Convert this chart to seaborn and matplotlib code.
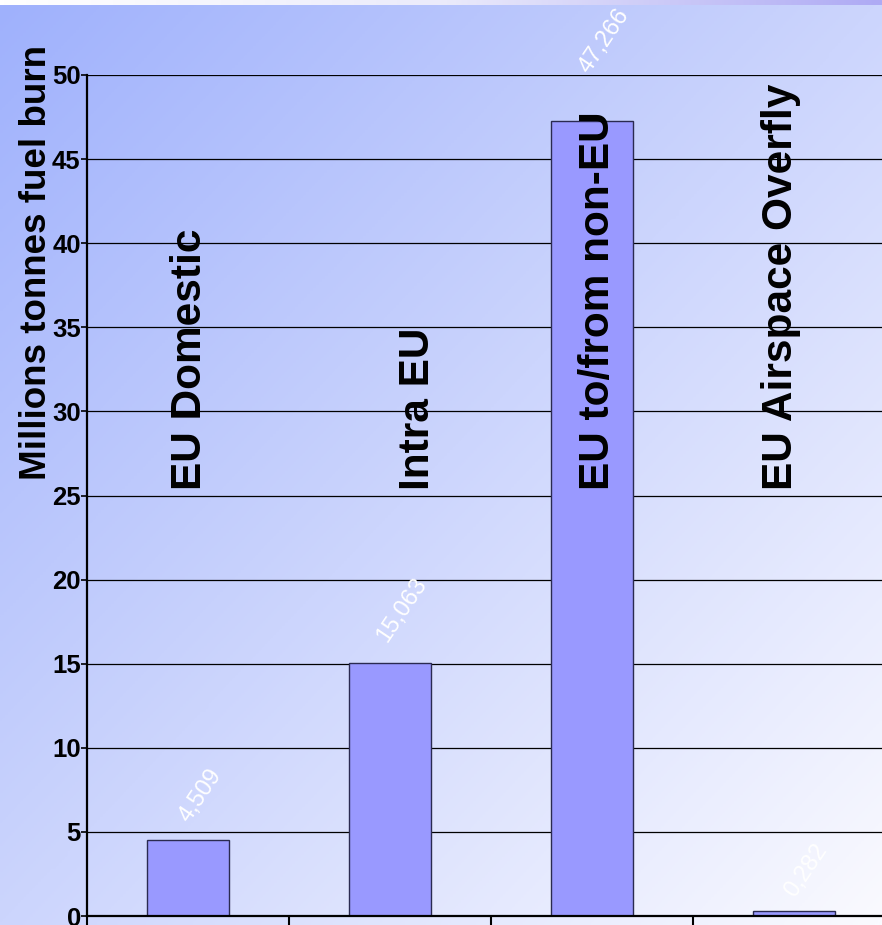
import numpy as np
import pandas as pd
import matplotlib
matplotlib.use("Agg")
import matplotlib.pyplot as plt
from matplotlib.colors import LinearSegmentedColormap
import seaborn as sns

# ---- data ----
categories = ["EU Domestic", "Intra EU", "EU to/from non-EU", "EU Airspace Overfly"]
values = [4.509, 15.063, 47.266, 0.282]
value_labels = ["4,509", "15,063", "47,266", "0,282"]
y_ticks = [0, 5, 10, 15, 20, 25, 30, 35, 40, 45, 50]
y_label = "Millions tonnes fuel burn"

# ---- style / positions ----
cat_label_dx = [0.01, 0.14, 0.03, -0.064]
cat_label_y = 25.3
W, H = 882, 925

plt.rcParams["font.family"] = ["Liberation Sans", "DejaVu Sans"]

fig = plt.figure(figsize=(W / 100, H / 100), dpi=100)

# background diagonal gradient
bg = fig.add_axes([0, 0, 1, 1], zorder=-10)
xx, yy = np.meshgrid(np.linspace(0, 1, 300), np.linspace(0, 1, 300))
t = (xx + yy) / 2
cmap_bg = LinearSegmentedColormap.from_list("bg", ["#9fb1fc", "#ccd5fd", "#fafaff"])
bg.imshow(t, cmap=cmap_bg, aspect="auto", extent=[0, 1, 1, 0], vmin=0, vmax=1)
bg.set_axis_off()

# top strip
strip = fig.add_axes([0, 1 - 5 / H, 1, 5 / H], zorder=-5)
cmap_strip = LinearSegmentedColormap.from_list("strip", ["#ffffff", "#ebebfb", "#aeaaf4"])
strip.imshow(np.linspace(0, 1, 300)[None, :], cmap=cmap_strip, aspect="auto", extent=[0, 1, 0, 1])
strip.set_axis_off()

left, right = 87 / W, 895 / W
bottom, top = 1 - 916 / H, 1 - 75 / H
ax = fig.add_axes([left, bottom, right - left, top - bottom])
ax.set_facecolor("none")

df = pd.DataFrame({"cat": categories, "val": values})
sns.barplot(data=df, x="cat", y="val", color="#9999ff", width=0.405,
            edgecolor="#2a2a50", linewidth=1.0, saturation=1, ax=ax, zorder=2)

ax.set_xlim(-0.5, 3.5)
ax.set_ylim(0, 50)
ax.set_xticks([-0.5, 0.5, 1.5, 2.5, 3.5], labels=[""] * 5)
ax.set_yticks(y_ticks, labels=[str(v) for v in y_ticks])
for lab in ax.get_yticklabels():
    lab.set_fontweight("bold")
    lab.set_fontsize(18.5)
ax.tick_params(axis="x", length=7, width=1.5, direction="out", color="black")
ax.tick_params(axis="y", length=4, width=1.2, direction="out", pad=0.5, color="black")
ax.set_xlabel("")
ax.set_ylabel("")

ax.yaxis.grid(True, color="black", linewidth=0.9)
ax.xaxis.grid(False)
ax.set_axisbelow(True)
for s in ["top", "right"]:
    ax.spines[s].set_visible(False)
ax.spines["left"].set_linewidth(1.6)
ax.spines["bottom"].set_linewidth(1.6)

# category labels inside the plot
for i, (c, dx) in enumerate(zip(categories, cat_label_dx)):
    ax.text(i + dx, cat_label_y, c, rotation=90, ha="center", va="bottom",
            fontsize=30.5, fontweight="bold", color="black", zorder=5, clip_on=False)

# value labels
for i, (v, lab) in enumerate(zip(values, value_labels)):
    ax.text(i + 0.06, v * 1.05 + 2.4, lab, rotation=56, ha="center", va="center",
            fontsize=17, color="white", zorder=5, clip_on=False,
            rotation_mode="anchor")

fig.text(37 / W, 1 - 262 / H, y_label, rotation=90, ha="center", va="center",
         fontsize=26.5, fontweight="bold", color="black")

fig.savefig("out.png", dpi=100)
